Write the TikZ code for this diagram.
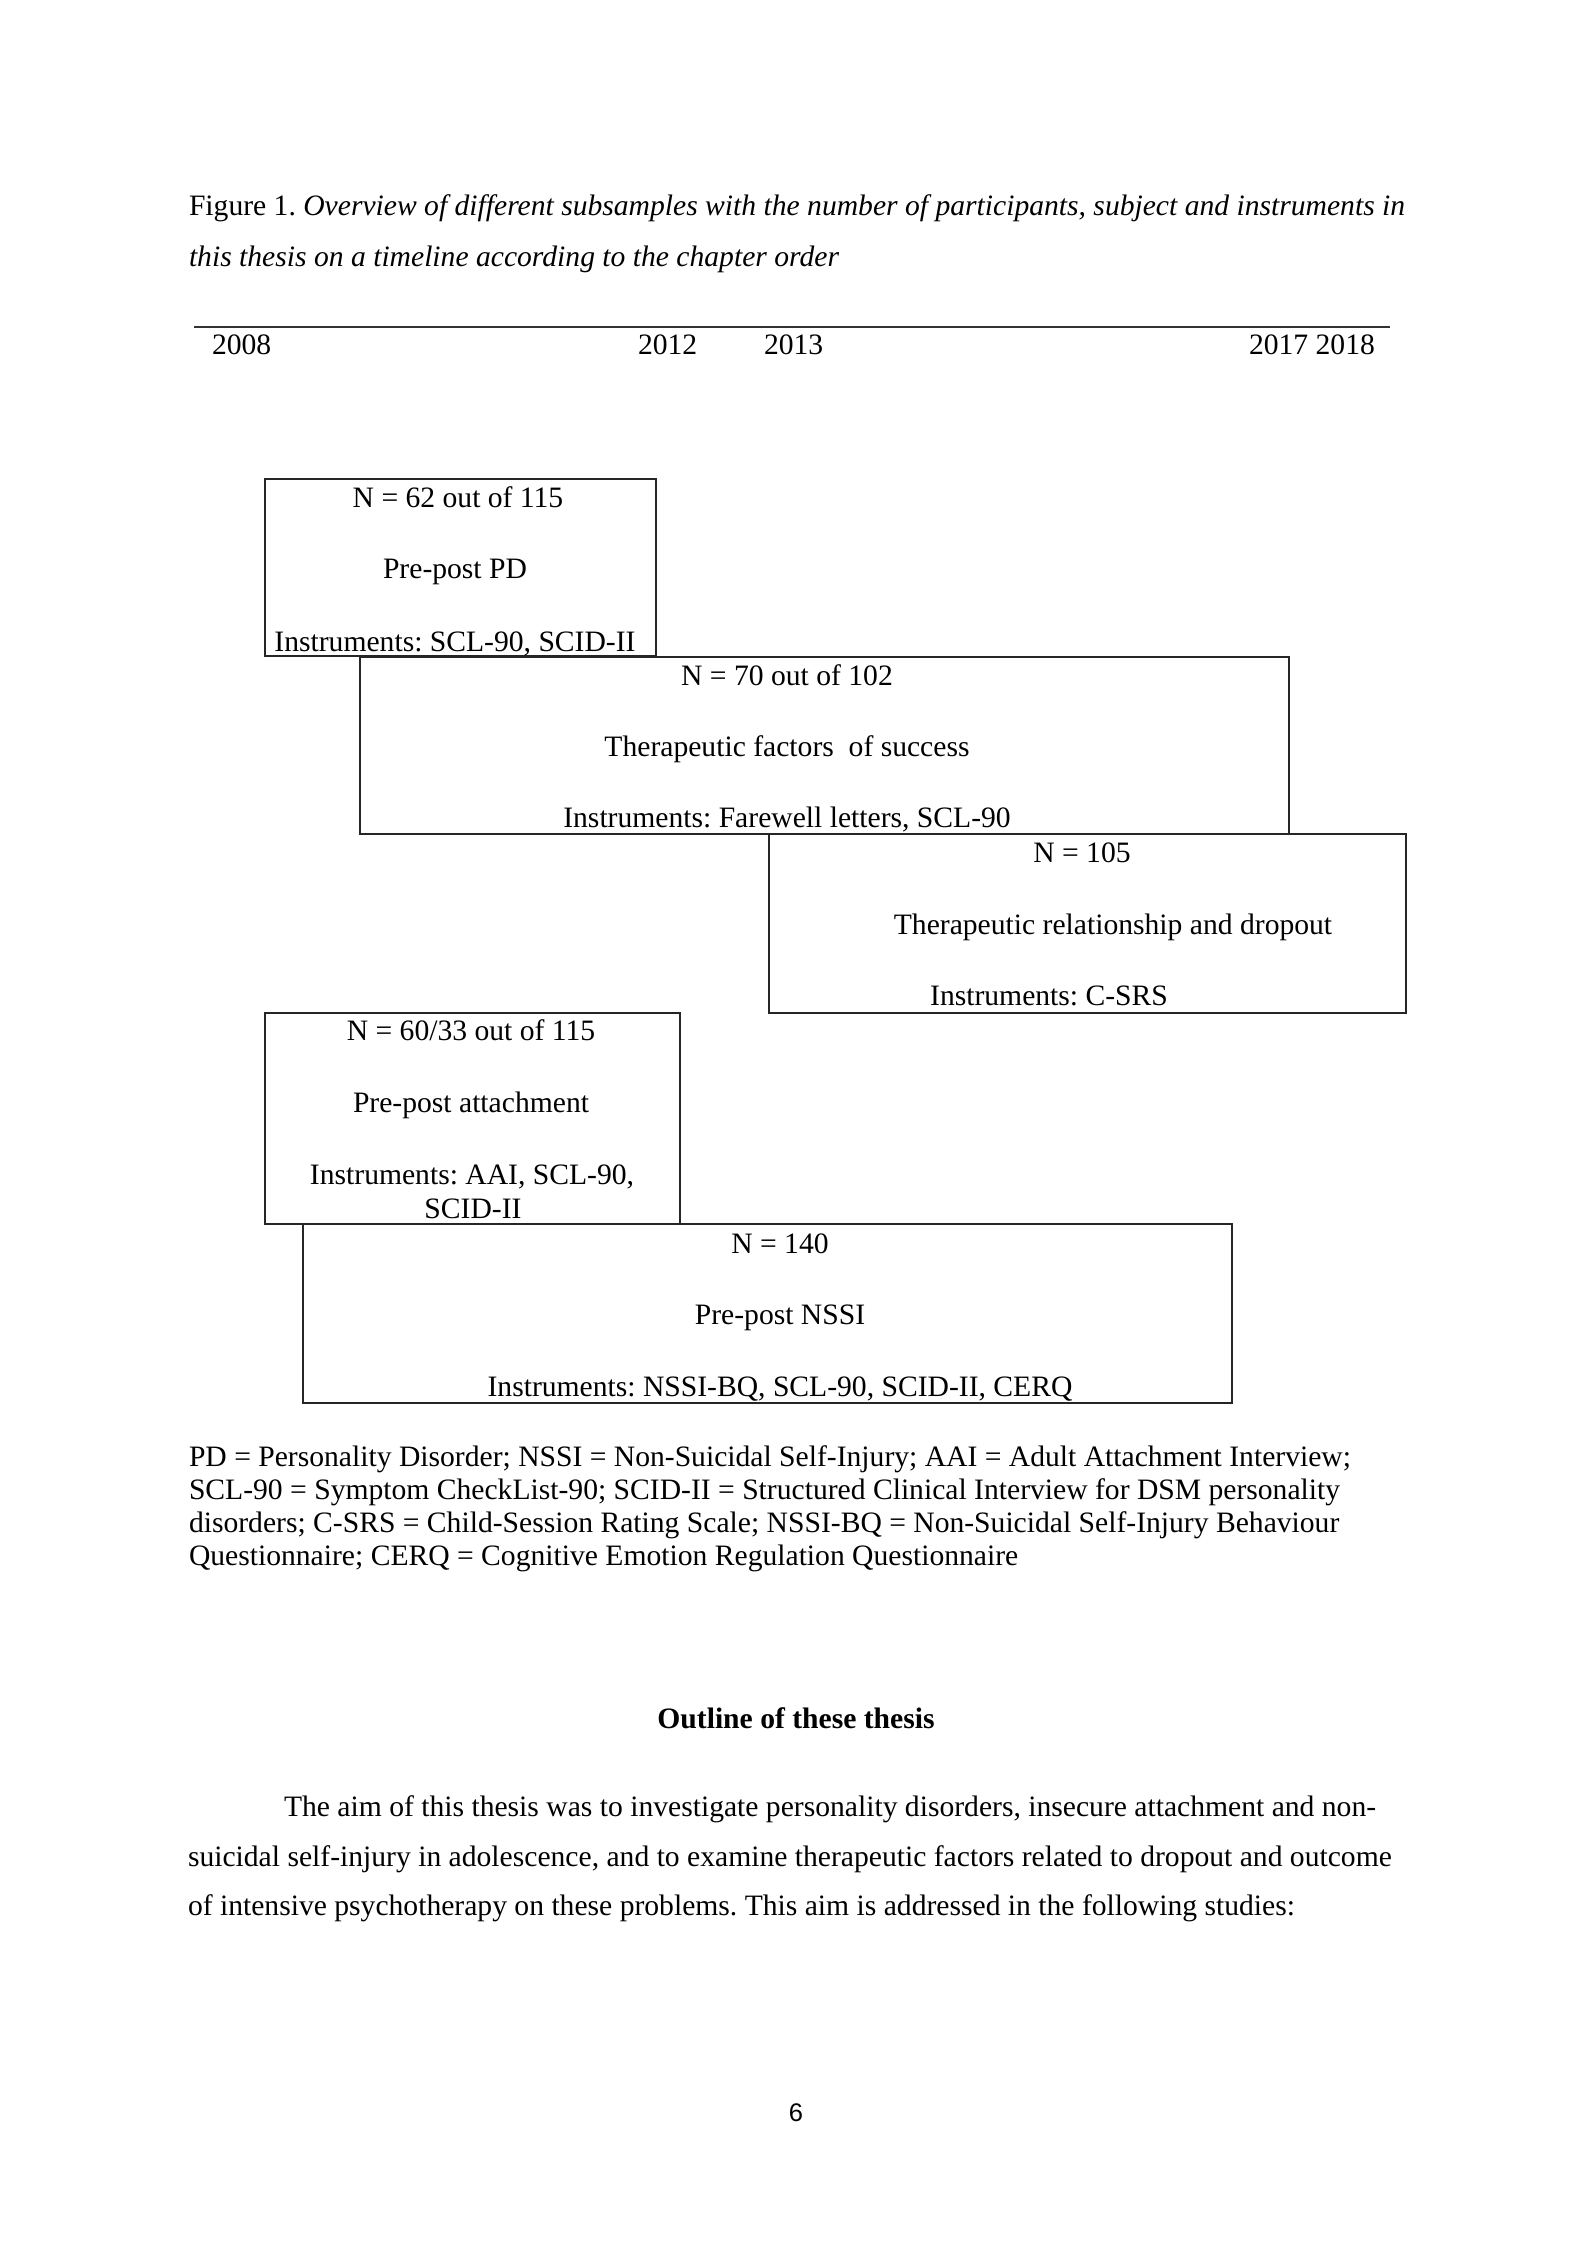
\documentclass[tikz,border=0pt]{standalone}
\usepackage{fontspec}
\setmainfont{Liberation Serif}
\newfontfamily\pnfont{Liberation Sans}
\usetikzlibrary{fit}
\begin{document}
\frenchspacing
\begin{tikzpicture}[x=0.412pt,y=-0.412pt,
  every node/.style={inner sep=0pt, outer sep=0pt, font=\fontsize{12.2}{14}\selectfont},
  ctxt/.style={anchor=base},
  ltxt/.style={anchor=base west},
  boxframe/.style={draw=black!85, line width=0.8pt, inner sep=0pt},
]
\fill[white] (0,0) rectangle (1594,2250);
\useasboundingbox (0,0) rectangle (1594,2250);

% caption
\node[ltxt] (cap1) at (189,216) {Figure 1. \textit{Overview of different subsamples with the number of participants, subject and instruments in}};
\node[ltxt] (cap2) at (189,266) {\textit{this thesis on a timeline according to the chapter order}};

% timeline
\coordinate (tl) at (194,327);
\coordinate (tr) at (1390,327);
\draw[line width=0.7pt, black!80] (tl) -- (tr);
\node[ltxt] (y2008) at (212,355) {2008};
\node[ltxt] (y2012) at (638,355) {2012};
\node[ltxt] (y2013) at (764,355) {2013};
\node[ltxt] (y2017) at (1249,355) {2017 2018};

% boxes
\node[boxframe, fit={(265,479) (656,656)}] (b1) {};
\node[boxframe, fit={(360,657) (1289,834)}] (b2) {};
\node[boxframe, fit={(769,834) (1406,1013)}] (b3) {};
\node[boxframe, fit={(265,1013) (680,1224)}] (b4) {};
\node[boxframe, fit={(303,1224) (1232,1403)}] (b5) {};

% box 1
\node[ctxt] (b1n) at (458,507) {N = 62 out of 115};
\node[ctxt] (b1s) at (455,578) {Pre-post PD};
\node[ctxt] (b1i) at (455,651) {Instruments: SCL-90, SCID-II};
% box 2
\node[ctxt] (b2n) at (787,685) {N = 70 out of 102};
\node[ctxt] (b2s) at (787,756) {Therapeutic factors\ \ of success};
\node[ctxt] (b2i) at (787,827) {Instruments: Farewell letters, SCL-90};
% box 3
\node[ctxt] (b3n) at (1082,862) {N = 105};
\node[ctxt] (b3s) at (1113,934) {Therapeutic relationship and dropout};
\node[ctxt] (b3i) at (1049,1005) {Instruments: C-SRS};
% box 4
\node[ctxt] (b4n) at (471,1040) {N = 60/33 out of 115};
\node[ctxt] (b4s) at (471,1112) {Pre-post attachment};
\node[ctxt] (b4i) at (472,1184) {Instruments: AAI, SCL-90,};
\node[ctxt] (b4j) at (473,1218) {SCID-II};
% box 5
\node[ctxt] (b5n) at (780,1253) {N = 140};
\node[ctxt] (b5s) at (780,1324) {Pre-post NSSI};
\node[ctxt] (b5i) at (780,1396) {Instruments: NSSI-BQ, SCL-90, SCID-II, CERQ};

% legend
\node[ltxt] (lg1) at (189,1466) {PD = Personality Disorder; NSSI = Non-Suicidal Self-Injury; AAI = Adult Attachment Interview;};
\node[ltxt] (lg2) at (189,1499) {SCL-90 = Symptom CheckList-90; SCID-II = Structured Clinical Interview for DSM personality};
\node[ltxt] (lg3) at (189,1532) {disorders; C-SRS = Child-Session Rating Scale; NSSI-BQ = Non-Suicidal Self-Injury Behaviour};
\node[ltxt] (lg4) at (189,1565) {Questionnaire; CERQ = Cognitive Emotion Regulation Questionnaire};

% outline
\node[ctxt, font=\fontsize{12.2}{14}\selectfont\bfseries] (head) at (796,1728) {Outline of these thesis};
\node[ltxt] (p1) at (284,1816) {The aim of this thesis was to investigate personality disorders, insecure attachment and non-};
\node[ltxt] (p2) at (188,1866) {suicidal self-injury in adolescence, and to examine therapeutic factors related to dropout and outcome};
\node[ltxt] (p3) at (188,1915) {of intensive psychotherapy on these problems. This aim is addressed in the following studies:};

% page number
\node[ctxt, font=\pnfont\fontsize{10.5}{12}\selectfont] (pg) at (796,2121) {6};
\end{tikzpicture}
\end{document}
